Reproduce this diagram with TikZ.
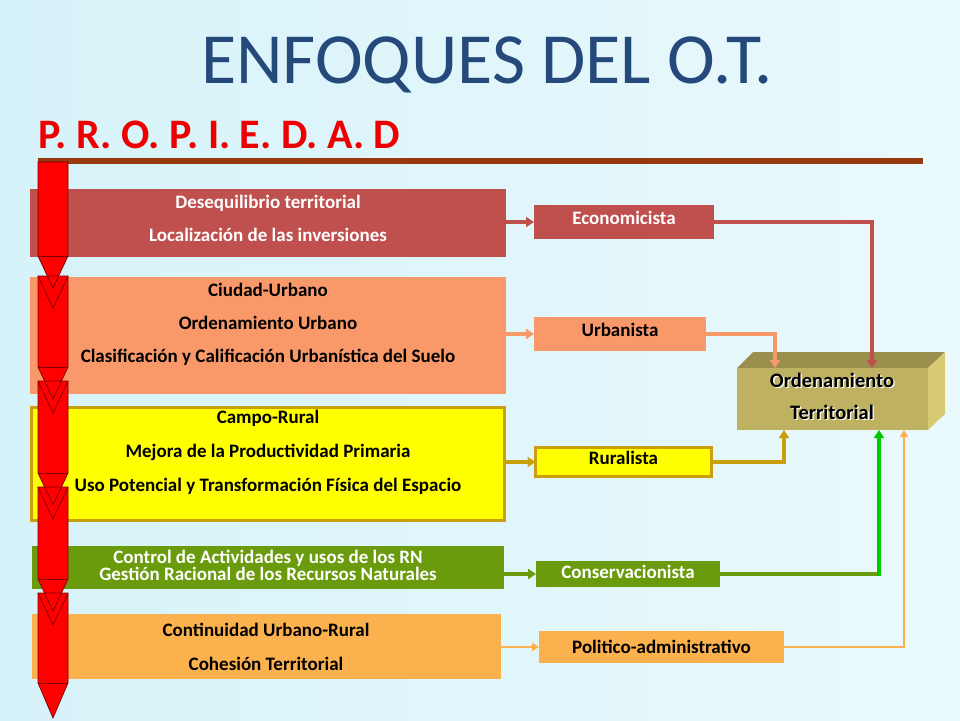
\documentclass[tikz,border=0pt]{standalone}
\usepackage{fontspec}
\setmainfont{Carlito}
\usetikzlibrary{arrows.meta,calc}
\definecolor{cRed}{HTML}{C0504D}
\definecolor{cSal}{HTML}{F9996A}
\definecolor{cYel}{HTML}{FFFF00}
\definecolor{cGold}{HTML}{C9A00C}
\definecolor{cGrn}{HTML}{6A9B0C}
\definecolor{cOra}{HTML}{FBB14E}
\definecolor{cBrt}{HTML}{00C800}
\definecolor{cTitle}{HTML}{24497A}
\definecolor{cHead}{HTML}{EE0000}
\definecolor{cBrown}{HTML}{98380E}
\definecolor{otF}{HTML}{BEB262}
\definecolor{otT}{HTML}{9B8F4E}
\definecolor{otS}{HTML}{D8CA72}
\definecolor{bgL}{HTML}{D6F3F9}
\definecolor{bgM}{HTML}{FCFEFF}
\definecolor{bgR}{HTML}{EAF9FC}
\definecolor{arrRed}{HTML}{FF0000}
\definecolor{arrLine}{HTML}{7A0000}
\tikzset{
  bx/.style={rectangle, inner sep=0pt, outer sep=0pt},
  txt/.style={inner sep=0pt, font=\bfseries\fontsize{19}{19}\selectfont},
  ottxt/.style={inner sep=0pt, font=\bfseries\fontsize{20.5}{20.5}\selectfont},
  conn/.style={line width=3.2pt, -{Triangle[length=8pt,width=10pt]}},
  thinconn/.style={line width=2pt, -{Triangle[length=7pt,width=8pt]}},
}
\begin{document}
\begin{tikzpicture}[x=1pt,y=-1pt]
\useasboundingbox (0,0) rectangle (960,720);
% background
\shade[left color=bgL, middle color=bgM, right color=bgR] (0,0) rectangle (960,720);
\fill[bgL, opacity=0.5] (0,0) rectangle (25,720);
% title
\node[anchor=base, inner sep=0pt, text=cTitle, font=\fontsize{72}{72}\selectfont] (title) at (487,83) {ENFOQUES DEL O.T.};
\node[anchor=base west, inner sep=0pt, text=cHead, font=\bfseries\fontsize{42}{42}\selectfont] (head) at (38,148) {P. R. O. P. I. E. D. A. D};
\fill[cBrown] (38,158) rectangle (923,164);
% left boxes
\node[bx, fill=cRed, minimum width=476pt, minimum height=68pt] (b1) at (268,223) {};
\node[bx, fill=cSal, minimum width=476pt, minimum height=117pt] (b2) at (268,335.5) {};
\node[bx, fill=cYel, draw=cGold, line width=3pt, minimum width=473pt, minimum height=113pt] (b3) at (268,464) {};
\node[bx, fill=cGrn, minimum width=472pt, minimum height=43pt] (b4) at (268,567.5) {};
\node[bx, fill=cOra, minimum width=469pt, minimum height=65pt] (b5) at (266.5,646.5) {};
% left box texts
\node[txt, text=white] (t11) at (268,203) {Desequilibrio territorial};
\node[txt, text=white] (t12) at (268,235) {Localización de las inversiones};
\node[txt] (t21) at (268,290) {Ciudad-Urbano};
\node[txt] (t22) at (268,323) {Ordenamiento Urbano};
\node[txt] (t23) at (268,357) {Clasificación y Calificación Urbanística del Suelo};
\node[txt] (t31) at (268,418) {Campo-Rural};
\node[txt] (t32) at (268,452) {Mejora de la Productividad Primaria};
\node[txt] (t33) at (268,486) {Uso Potencial y Transformación Física del Espacio};
\node[txt, text=white] (t41) at (268,558) {Control de Actividades y usos de los RN};
\node[txt, text=white] (t42) at (268,574) {Gestión Racional de los Recursos Naturales};
\node[txt] (t51) at (266,630) {Continuidad Urbano-Rural};
\node[txt] (t52) at (266,664) {Cohesión Territorial};
% red arrows
\foreach \t/\s/\p in {162/256/288, 276/367/399, 381/473/505, 487/579/611, 593/683/718}{
  \fill[arrRed] (38,\t) -- (68,\t) -- (68,\s) -- (53,\p) -- (38,\s) -- cycle;
}
\foreach \t/\s/\p in {162/256/288, 276/367/399, 381/473/505, 487/579/611, 593/683/718}{
  \draw[arrLine, line width=0.7pt, line join=miter] (38,\t) -- (68,\t) -- (68,\s) -- (53,\p) -- (38,\s) -- cycle;
  \draw[arrLine, line width=0.7pt] (38,\s) -- (68,\s);
}
\foreach \t in {276, 381, 487, 593}{
  \draw[arrLine, line width=0.7pt] (38,\t) -- (53,\t+32) -- (68,\t);
}
% right boxes
\node[bx, fill=cRed, minimum width=180pt, minimum height=34pt] (eco) at (624,222) {};
\node[txt, text=white] (teco) at (624,218) {Economicista};
\node[bx, fill=cSal, minimum width=172pt, minimum height=34pt] (urb) at (620,334) {};
\node[txt] (turb) at (620,330) {Urbanista};
\node[bx, fill=cYel, draw=cGold, line width=3pt, minimum width=176pt, minimum height=29pt] (rur) at (623.5,462) {};
\node[txt] (trur) at (623.5,458) {Ruralista};
\node[bx, fill=cGrn, minimum width=184pt, minimum height=26pt] (con) at (628,574) {};
\node[txt, text=white] (tcon) at (628,572) {Conservacionista};
\node[bx, fill=cOra, minimum width=245pt, minimum height=32pt] (pol) at (661.5,647) {};
\node[txt] (tpol) at (661.5,647) {Politico-administrativo};
% OT 3D box
\fill[otT] (737,368) -- (753,352) -- (945,352) -- (928,368) -- cycle;
\fill[otS] (928,368) -- (945,352) -- (945,414) -- (928,430) -- cycle;
\node[bx, fill=otF, minimum width=191pt, minimum height=62pt] (ot) at (832.5,399) {};
\node[ottxt, text=white] (otw1) at (833.3,381.8) {Ordenamiento};
\node[ottxt] (otk1) at (832,380.5) {Ordenamiento};
\node[ottxt, text=white] (otw2) at (833.3,413.8) {Territorial};
\node[ottxt] (otk2) at (832,412.5) {Territorial};
% connectors left -> right
\draw[conn, cRed] (b1.east |- eco.west) -- (eco.west);
\draw[conn, cSal] (b2.east |- urb.west) -- (urb.west);
\draw[conn, cGold] (b3.east |- rur.west) -- (rur.west);
\draw[conn, cGrn] (b4.east |- con.west) -- (con.west);
\draw[thinconn, cOra] (b5.east |- pol.west) -- (pol.west);
% connectors right -> OT
\draw[conn, cRed] (eco.east) -| ([xshift=39.5pt]ot.north);
\draw[conn, cSal] (urb.east) -| ([xshift=-57.5pt]ot.north);
\draw[conn, cGold] (rur.east) -| ([xshift=-48.5pt]ot.south);
\draw[line width=3.2pt, cGrn] (con.east) -- (con.east -| 879,0);
\draw[conn, cBrt] (879,575.6) -- ([xshift=46.5pt]ot.south);
\draw[thinconn, cOra] (pol.east) -| ([xshift=71.5pt]ot.south);
\end{tikzpicture}
\end{document}
